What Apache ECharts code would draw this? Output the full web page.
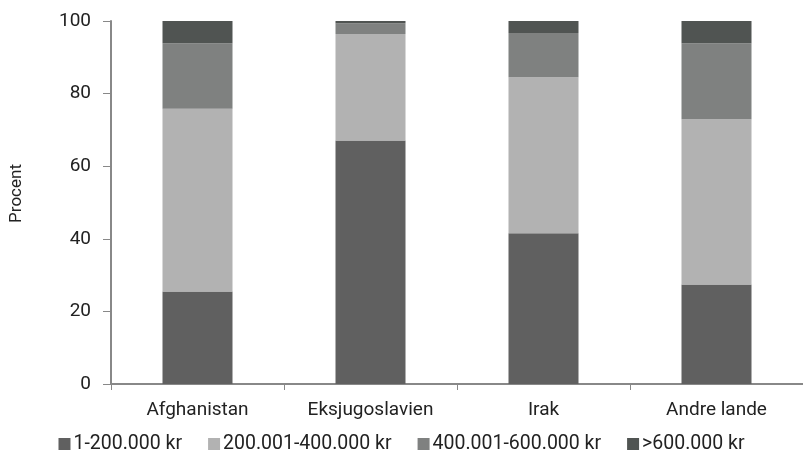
<!DOCTYPE html>
<html><head><meta charset="utf-8">
<script src="https://cdn.jsdelivr.net/npm/echarts@6/dist/echarts.min.js"></script>
<style>html,body{margin:0;padding:0;background:#fff}#c{width:803px;height:454px}</style>
</head><body><div id="c"></div>
<script>
const categories = ['Afghanistan', 'Eksjugoslavien', 'Irak', 'Andre lande'];
const seriesNames = ['1-200.000 kr', '200.001-400.000 kr', '400.001-600.000 kr', '>600.000 kr'];
const s1 = [25.5, 67.1, 41.5, 27.4];
const s2 = [50.3, 29.3, 43.0, 45.5];
const s3 = [18.1, 3.0, 12.2, 21.0];
const s4 = [6.1, 0.6, 3.3, 6.1];
const yTicks = [0, 20, 40, 60, 80, 100];
const colors = ['#606060', '#b2b2b2', '#7f8180', '#505452'];

const font = 'Roboto';
const chart = echarts.init(document.getElementById('c'));
const data = [s1, s2, s3, s4];
chart.setOption({
  animation: false,
  textStyle: { fontFamily: font },
  grid: { left: 111, top: 21, width: 697, bottom: 70 },
  legend: {
    bottom: -5, left: 'center', itemWidth: 12, itemHeight: 12, itemGap: 26,
    icon: 'rect',
    textStyle: { fontFamily: font, fontSize: 19.5, color: '#222', padding: [0, 0, 0, -2] },
    data: seriesNames
  },
  xAxis: {
    type: 'category', data: categories,
    axisLine: { lineStyle: { color: '#888', width: 2 } },
    axisTick: { show: true, length: 6, lineStyle: { color: '#888', width: 1 } },
    axisLabel: { fontFamily: font, fontSize: 19, color: '#222', margin: 17 }
  },
  yAxis: {
    type: 'value', min: 0, max: 100, interval: 20,
    name: 'Procent', nameLocation: 'middle', nameGap: 86, nameRotate: 90,
    nameTextStyle: { fontFamily: font, fontSize: 17, color: '#222', padding: [0, 0, 0, 18] },
    axisLine: { show: true, lineStyle: { color: '#888', width: 2 } },
    axisTick: { show: true, length: 8, lineStyle: { color: '#888', width: 1 } },
    splitLine: { show: false },
    axisLabel: { fontFamily: font, fontSize: 19, color: '#222', margin: 20,
      formatter: v => yTicks.includes(v) ? String(v) : '' }
  },
  series: data.map((d, i) => ({
    name: seriesNames[i], type: 'bar', stack: 'all', data: d,
    barWidth: 70,
    itemStyle: { color: colors[i] }
  }))
});
</script></body></html>
